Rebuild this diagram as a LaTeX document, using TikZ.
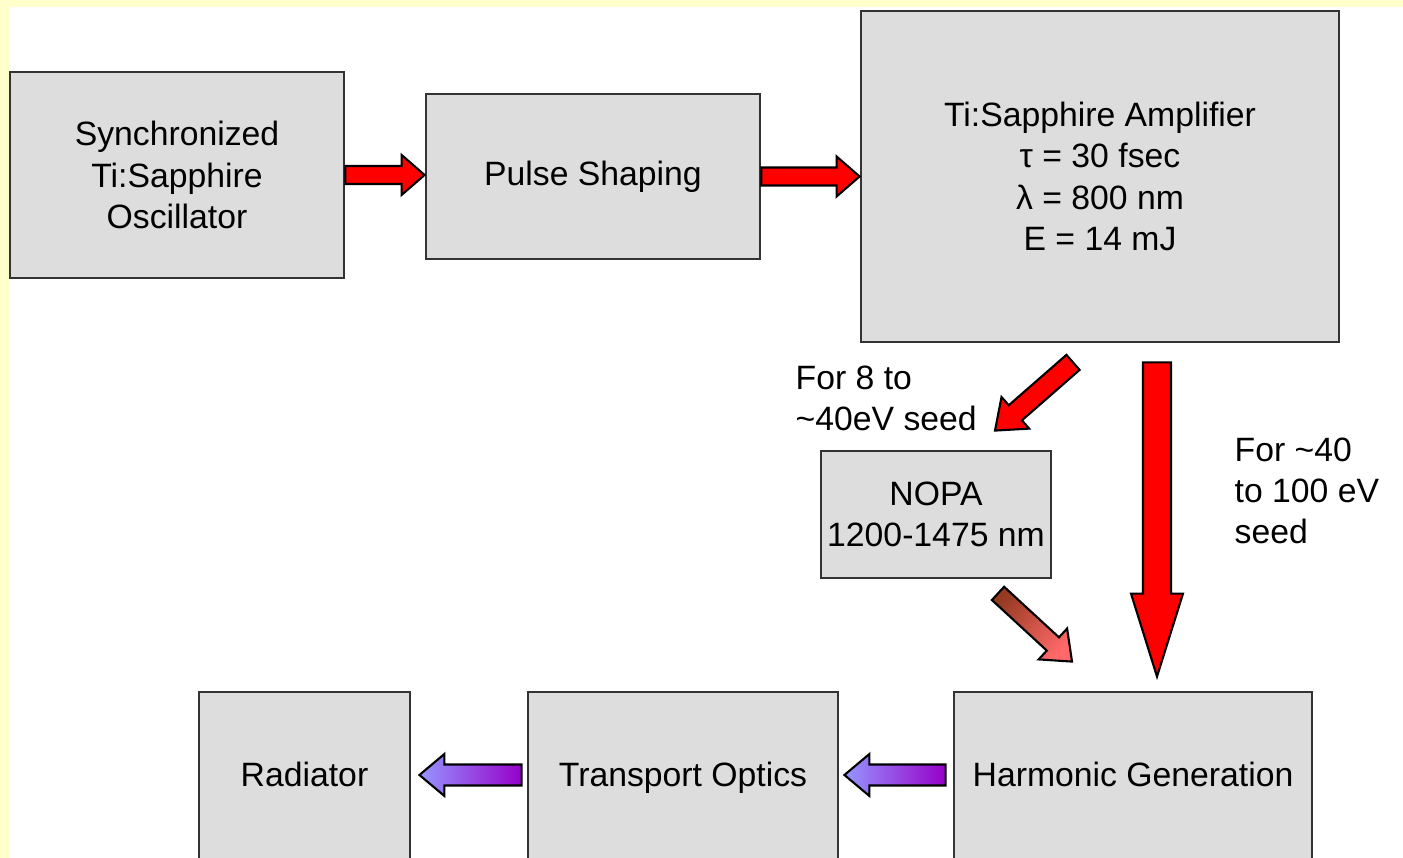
\documentclass[tikz,border=0pt]{standalone}
\usepackage{fontspec}
\setmainfont{Liberation Sans}
\usetikzlibrary{calc}
\definecolor{bgyellow}{RGB}{255,255,204}
\definecolor{boxgray}{RGB}{221,221,221}
\definecolor{beamred}{RGB}{255,0,0}
\definecolor{nopabrown}{RGB}{150,58,34}
\definecolor{nopapink}{RGB}{255,105,105}
\definecolor{xuvblue}{RGB}{150,150,255}
\definecolor{xuvpurple}{RGB}{150,0,200}
% block arrow: [style] from, to, shaft half width, head half width, head length
\newcommand{\blockarrow}[6][]{%
  \draw[arrowline,#1] ($(#2)!#4!90:(#3)$) -- ($(#3)!#6!(#2)!#4!90:(#3)$) -- ($(#3)!#6!(#2)!#5!90:(#3)$) -- (#3)
    -- ($(#3)!#6!(#2)!#5!-90:(#3)$) -- ($(#3)!#6!(#2)!#4!-90:(#3)$) -- ($(#2)!#4!-90:(#3)$) -- cycle;}
\begin{document}
\begin{tikzpicture}[every node/.style={font=\fontsize{9.6}{11.7}\selectfont},
  stage/.style={draw=black!80,line width=0.8pt,fill=boxgray,align=center,inner sep=0pt},
  xuvstage/.style={stage,minimum height=1.70cm,text height=0.75em,text depth=0.22em},
  arrowline/.style={draw=black,line width=0.6pt},
  redbeam/.style={fill=beamred}]
\useasboundingbox (0,0) rectangle (14.03,8.58);
% frame
\fill[bgyellow] (0,0) rectangle (14.03,8.58);
\fill[white] (0.09,0) rectangle (14.03,8.51);
% laser chain
\node[stage,minimum width=3.34cm,minimum height=2.06cm] (osc) at (1.77,6.83) {Synchronized\\Ti:Sapphire\\Oscillator};
\node[stage,minimum width=3.34cm,minimum height=1.65cm] (pulse) at (5.93,6.815) {Pulse Shaping};
\node[stage,minimum width=4.78cm,minimum height=3.31cm] (amp) at (11.00,6.815) {Ti:Sapphire Amplifier\\τ = 30 fsec\\λ = 800 nm\\E = 14 mJ};
\node[stage,minimum width=2.30cm,minimum height=1.27cm] (nopa) at (9.36,3.435) {NOPA\\1200-1475 nm};
% XUV chain
\node[xuvstage,minimum width=3.58cm] (harm) at (11.33,0.81) {Harmonic Generation};
\node[xuvstage,minimum width=3.10cm] (trans) at (6.83,0.81) {Transport Optics};
\node[xuvstage,minimum width=2.11cm] (rad) at (3.045,0.81) {Radiator};
% labels
\node[anchor=west,align=left,inner sep=0pt] (lowseed) at (7.95,4.595) {For 8 to\\\textasciitilde40eV seed};
\node[anchor=west,align=left,inner sep=0pt] (highseed) at (12.34,3.67) {For \textasciitilde40\\to 100 eV\\seed};
% arrow ends
\coordinate (oscpulse0) at (osc.east);
\coordinate (oscpulse1) at (osc.east -| pulse.west);
\coordinate (pulseamp0) at (pulse.east);
\coordinate (pulseamp1) at (pulse.east -| amp.west);
\coordinate (ampnopa0) at ($(amp.south)+(-0.27,-0.19)$);
\coordinate (ampnopa1) at ($(nopa.north)+(0.59,0.19)$);
\coordinate (ampharm0) at ($(amp.south)+(0.57,-0.19)$);
\coordinate (ampharm1) at ($(harm.north)+(0.24,0.14)$);
\coordinate (nopaharm0) at ($(nopa.south)+(0.62,-0.14)$);
\coordinate (nopaharm1) at ($(harm.north)+(-0.61,0.29)$);
\coordinate (harmtrans0) at ($(harm.west)+(-0.07,0.02)$);
\coordinate (harmtrans1) at ($(trans.east)+(0.05,0.02)$);
\coordinate (transrad0) at ($(trans.west)+(-0.05,0.02)$);
\coordinate (transrad1) at ($(rad.east)+(0.08,0.02)$);
% arrows
\blockarrow[redbeam]{oscpulse0}{oscpulse1}{0.09cm}{0.20cm}{0.23cm}
\blockarrow[redbeam]{pulseamp0}{pulseamp1}{0.09cm}{0.20cm}{0.23cm}
\blockarrow[redbeam]{ampnopa0}{ampnopa1}{0.10cm}{0.21cm}{0.27cm}
\blockarrow[redbeam]{ampharm0}{ampharm1}{0.14cm}{0.26cm}{0.83cm}
\blockarrow[top color=nopabrown,bottom color=nopapink,shading angle=45]{nopaharm0}{nopaharm1}{0.09cm}{0.21cm}{0.26cm}
\blockarrow[left color=xuvblue,right color=xuvpurple]{harmtrans0}{harmtrans1}{0.105cm}{0.21cm}{0.25cm}
\blockarrow[left color=xuvblue,right color=xuvpurple]{transrad0}{transrad1}{0.105cm}{0.21cm}{0.25cm}
\end{tikzpicture}
\end{document}
